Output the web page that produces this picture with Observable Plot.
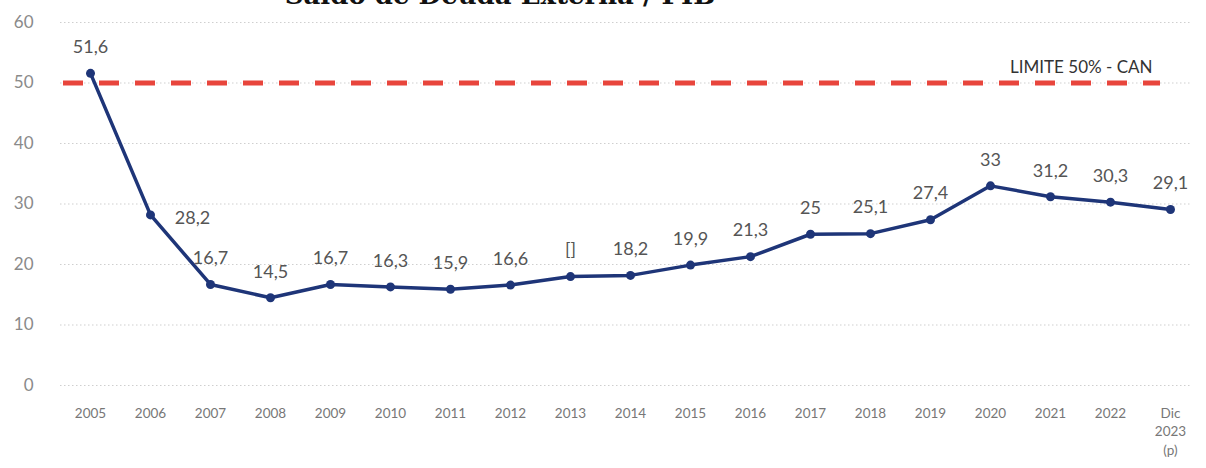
<!DOCTYPE html>
<html>
<head>
<meta charset="utf-8">
<script src="https://cdn.jsdelivr.net/npm/d3@7"></script>
<script src="https://cdn.jsdelivr.net/npm/@observablehq/plot@0.6"></script>
<style>
  html, body { margin: 0; padding: 0; background: #fff; overflow: hidden; }
  #wrap { position: relative; width: 1206px; height: 468px; }
  #title { position: absolute; top: -20px; left: 0; width: 1000px; text-align: center;
    font-family: "DejaVu Serif", serif; font-weight: bold; font-size: 26px; color: #111; z-index: 2; }
  svg { font-family: Lato, "Noto Sans", sans-serif; }
</style>
</head>
<body>
<div id="wrap"><div id="title">Saldo de Deuda Externa / PIB</div><div id="chart"></div></div>
<script>
const years = ["2005","2006","2007","2008","2009","2010","2011","2012","2013","2014","2015","2016","2017","2018","2019","2020","2021","2022","Dic 2023"];
const values = [51.6,28.2,16.7,14.5,16.7,16.3,15.9,16.6,18.0,18.2,19.9,21.3,25,25.1,27.4,33,31.2,30.3,29.1];
const valueLabels = ["51,6","28,2","16,7","14,5","16,7","16,3","15,9","16,6","[]","18,2","19,9","21,3","25","25,1","27,4","33","31,2","30,3","29,1"];
const yTicks = [0,10,20,30,40,50,60];
const limit = 50;
const limitLabel = "LIMITE 50% - CAN";

const data = years.map((y, i) => ({year: y, value: values[i], label: valueLabels[i]}));
const sideLabel = d => d.year === "2006";

const chart = Plot.plot({
  width: 1206,
  height: 468,
  marginLeft: 60,
  marginRight: 6,
  marginTop: 22,
  marginBottom: 83,
  x: {type: "point", domain: years, padding: 0.5, label: null},
  y: {domain: [0, 60], label: null},
  marks: [
    Plot.gridY(yTicks, {stroke: "#bbb", strokeOpacity: 0.7, strokeDasharray: "1.5,2.5", insetRight: 10}),
    Plot.axisY(yTicks, {tickSize: 0, tickPadding: 27, fontSize: 17, fill: "#8a8a8a", label: null}),
    Plot.axisX({tickSize: 0, tickPadding: 19, fontSize: 13.5, lineHeight: 1.38, fill: "#777", label: null,
      tickFormat: d => d === "Dic 2023" ? "Dic\n2023\n(p)" : d}),
    Plot.ruleY([limit], {stroke: "#e8453c", strokeWidth: 5, strokeDasharray: "20,16", insetLeft: 3, insetRight: 40}),
    Plot.text([limitLabel], {x: () => "Dic 2023", y: () => limit, text: d => d, textAnchor: "end", dx: -18, dy: -15, fontSize: 17, fill: "#333"}),
    Plot.line(data, {x: "year", y: "value", stroke: "#1e3578", strokeWidth: 3.5}),
    Plot.dot(data, {x: "year", y: "value", r: 4.5, fill: "#1e3578"}),
    Plot.text(data.filter(d => !sideLabel(d)), {x: "year", y: "value", text: "label", dy: -26, fontSize: 18, fill: "#555"}),
    Plot.text(data.filter(sideLabel), {x: "year", y: "value", text: "label", dx: 42, dy: 3, fontSize: 18, fill: "#555"})
  ]
});
document.getElementById("chart").appendChild(chart);
</script>
</body>
</html>
